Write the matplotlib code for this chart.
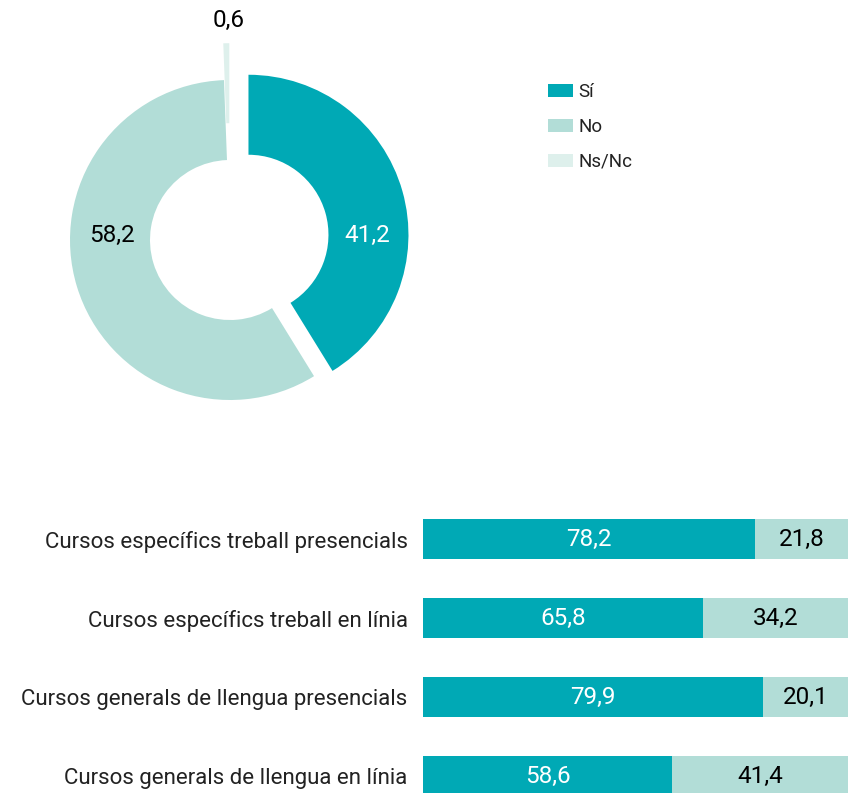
import numpy as np
import matplotlib.pyplot as plt

plt.rcParams['font.family'] = ['Roboto', 'DejaVu Sans']

# Dades
donut_labels = ['Sí', 'No', 'Ns/Nc']
donut_values = [41.2, 58.2, 0.6]

categories = ['Cursos específics treball presencials',
              'Cursos específics treball en línia',
              'Cursos generals de llengua presencials',
              'Cursos generals de llengua en línia']
si_values = [78.2, 65.8, 79.9, 58.6]
no_values = [21.8, 34.2, 20.1, 41.4]

colors = ['#00A9B5', '#B2DDD7', '#DEF0EC']
FS = 16      # etiquetes de categoria
FS_NUM = 17.5  # valors

W, H = 848, 793
fig = plt.figure(figsize=(W / 100, H / 100), dpi=100)

# --- Donut ---
R = 160  # radi en píxels
ax1 = fig.add_axes([40 / W, (H - 480) / H, 380 / W, 480 / H])
wedges, _ = ax1.pie(donut_values, colors=colors, startangle=90, counterclock=False,
                    explode=[0.12, 0, 0.23], radius=1,
                    wedgeprops=dict(width=0.5, edgecolor='none'))
ax1.set_xlim(-190 / R, 190 / R)
ax1.set_ylim(-240 / R, 240 / R)
ax1.set_aspect('auto')
ax1.axis('off')

fmt = lambda v: f'{v:.1f}'.replace('.', ',')
ax1.text(0.86, 0.03, fmt(donut_values[0]), color='white', fontsize=FS_NUM,
         ha='center', va='center')
ax1.text(-0.74, 0.03, fmt(donut_values[1]), color='black', fontsize=FS_NUM,
         ha='center', va='center')
ax1.text(-0.01, 1.375, fmt(donut_values[2]), color='black', fontsize=FS_NUM,
         ha='center', va='center')

leg = fig.legend(wedges, donut_labels, loc='upper left',
                 bbox_to_anchor=(548 / W, 1 - 83 / H), frameon=False,
                 fontsize=13.5, handlelength=1.33, handleheight=0.69,
                 handletextpad=0.27, labelspacing=0.9,
                 borderpad=0, borderaxespad=0)
for t in leg.get_texts():
    t.set_color('#222222')

# --- Barres ---
ax2 = fig.add_axes([423 / W, 0, 1 - 423 / W, 293 / H])
y = np.arange(len(categories))
ax2.barh(y, si_values, height=0.506, color=colors[0])
ax2.barh(y, no_values, left=si_values, height=0.506, color=colors[1])
ax2.set_xlim(0, 100)
ax2.set_ylim(3.215, -0.494)
for i in y:
    ax2.text(si_values[i] / 2, i, fmt(si_values[i]), color='white',
             fontsize=FS_NUM, ha='center', va='center')
    ax2.text(si_values[i] + no_values[i] / 2, i, fmt(no_values[i]),
             color='black', fontsize=FS_NUM, ha='center', va='center')
ax2.set_yticks(y)
ax2.set_yticklabels(categories, fontsize=FS, color='#222222')
ax2.tick_params(axis='y', length=0, pad=11)
ax2.set_xticks([])
for s in ax2.spines.values():
    s.set_visible(False)

fig.savefig('out.png', dpi=100)
